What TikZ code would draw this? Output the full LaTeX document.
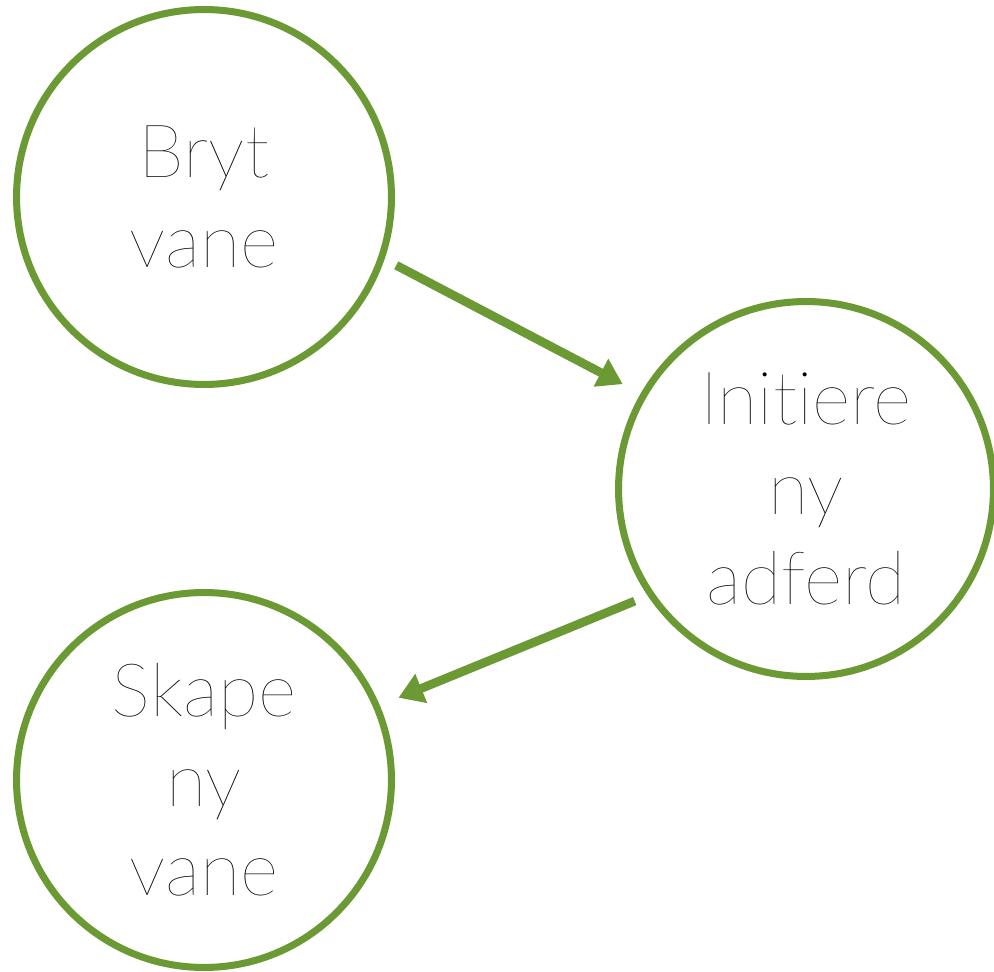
\documentclass[tikz,border=0pt]{standalone}
\usepackage{fontspec}
\IfFontExistsTF{Lato Thin}
  {\setmainfont{Lato Thin}[Ligatures=NoCommon]}
  {\setmainfont{Lato Light}[Ligatures=NoCommon]}
\usetikzlibrary{arrows.meta}
\definecolor{vanegreen}{RGB}{107,153,51}
\begin{document}
\begin{tikzpicture}[x=0.02cm,y=-0.02cm,
  habit/.style={circle,draw=vanegreen,line width=4pt,minimum size=7.5cm,
    align=center,font=\fontsize{42}{51}\selectfont},
  flow/.style={draw=vanegreen,line width=5pt,-{Triangle[length=14pt,width=17pt]}}]
\useasboundingbox (0,0) rectangle (994,972);

\draw (204,197) node[habit] (bryt) {Bryt\\vane};
\draw (806,489) node[habit] (initiere) {Initiere\\ny\\adferd};
\draw (204,780) node[habit] (skape) {Skape\\ny\\vane};

\draw[flow,shorten <=7.5pt,shorten >=11.5pt] (bryt.-19) -- (initiere.150);
\draw[flow,shorten <=8pt,shorten >=11.5pt] (initiere.214) -- (skape.23);
\end{tikzpicture}
\end{document}
